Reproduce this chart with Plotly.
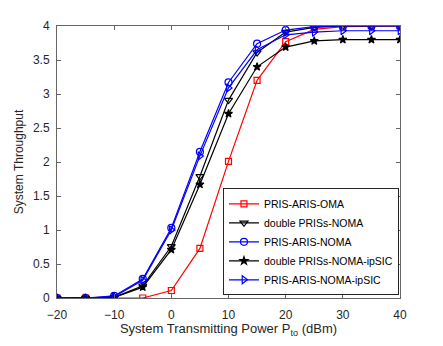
import plotly.graph_objects as go

power_dbm = [-20, -15, -10, -5, 0, 5, 10, 15, 20, 25, 30, 35, 40]

pris_aris_oma = [0, 0, 0, 0, 0.11, 0.73, 2.01, 3.20, 3.77, 3.95, 3.99, 4.0, 4.0]
double_priss_noma = [0, 0, 0.01, 0.18, 0.76, 1.79, 2.91, 3.61, 3.91, 3.98, 4.0, 4.0, 4.0]
pris_aris_noma = [0, 0, 0.03, 0.28, 1.03, 2.15, 3.17, 3.74, 3.94, 3.99, 4.0, 4.0, 4.0]
double_priss_noma_ipsic = [0, 0, 0.01, 0.16, 0.71, 1.67, 2.71, 3.40, 3.69, 3.78, 3.80, 3.80, 3.80]
pris_aris_noma_ipsic = [0, 0, 0.02, 0.26, 1.00, 2.09, 3.09, 3.65, 3.87, 3.91, 3.93, 3.93, 3.93]

series = [
    ("PRIS-ARIS-OMA", pris_aris_oma, "red", "square-open", 6),
    ("double PRISs-NOMA", double_priss_noma, "black", "triangle-down-open", 7),
    ("PRIS-ARIS-NOMA", pris_aris_noma, "blue", "circle-open", 7),
    ("double PRISs-NOMA-ipSIC", double_priss_noma_ipsic, "black", "star", 6),
    ("PRIS-ARIS-NOMA-ipSIC", pris_aris_noma_ipsic, "blue", "triangle-right-open", 7),
]

fig = go.Figure()
for name, vals, color, symbol, size in series:
    fig.add_trace(go.Scatter(
        x=power_dbm, y=vals, name=name, mode="lines+markers",
        line=dict(color=color, width=1.2),
        marker=dict(symbol=symbol, size=size, color=color,
                    line=dict(color=color, width=1.2)),
    ))

axis_common = dict(
    showgrid=False, zeroline=False, showline=True, linecolor="#666",
    linewidth=1, mirror="ticks", ticks="inside", ticklen=4, tickcolor="#666",
    tickfont=dict(size=12, color="#262626"), automargin=False,
)

# page body has an 8px margin, so the figure is sized to fit inside it
fig.update_layout(
    width=427, height=330,
    margin=dict(l=49, r=35, t=18, b=40),
    paper_bgcolor="white", plot_bgcolor="white",
    font=dict(family="Liberation Sans, Arial, sans-serif", color="#262626"),
    xaxis=dict(range=[-20, 40], tickvals=[-20, -10, 0, 10, 20, 30, 40],
               ticklabelstandoff=6,
               title=dict(text="System Transmitting Power P<sub>to</sub> (dBm)",
                          font=dict(size=13), standoff=0),
               **axis_common),
    yaxis=dict(range=[0, 4], dtick=0.5, ticklabelstandoff=4,
               title=dict(text="System Throughput", font=dict(size=12), standoff=6),
               **axis_common),
    legend=dict(
        x=0.997, y=0.01, xanchor="right", yanchor="bottom",
        bgcolor="white", bordercolor="#262626", borderwidth=1,
        font=dict(size=10.5, color="black"), tracegroupgap=0,
        itemwidth=30,
    ),
    showlegend=True,
)

fig.write_html("out.html")
